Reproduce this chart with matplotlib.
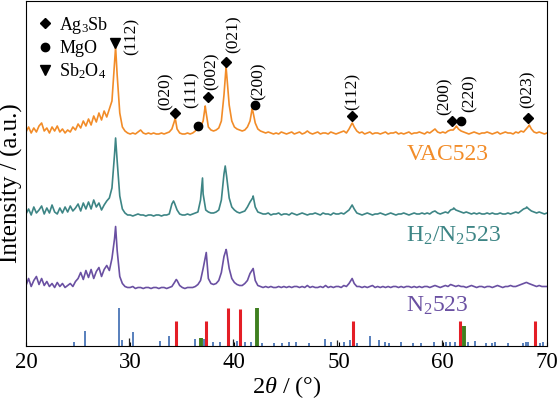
import numpy as np
import matplotlib
matplotlib.use("Agg")
import matplotlib.pyplot as plt
from matplotlib.lines import Line2D

plt.rcParams['font.family'] = ['Liberation Serif', 'DejaVu Serif']
plt.rcParams['mathtext.fontset'] = 'custom'
plt.rcParams['mathtext.rm'] = 'Liberation Serif'
plt.rcParams['mathtext.it'] = 'Liberation Serif:italic'

# scan grid, 0.25 deg step
two_theta = np.arange(20, 70.001, 0.25)

# intensities (arb. units, above each baseline)
vac523 = [3, 8, 2, 7, 3, 9, 12, 4,
          7, 2, 8, 4, 9, 3, 6, 2,
          5, 3, 8, 5, 11, 7, 14, 9,
          16, 10, 19, 13, 22, 15, 24, 18,
          26, 34, 72, 60, 22, 8, 4, 2,
          1, 2, 1, 3, 5, 2, 1, 2,
          1, 2, 1, 1, 2, 1, 2, 3,
          6, 14, 6, 2, 1, 1, 2, 1,
          2, 4, 7, 8, 14, 25, 8, 5,
          4, 5, 7, 14, 40, 62, 30, 14,
          8, 6, 5, 4, 5, 8, 14, 25,
          12, 6, 4, 3, 2, 3, 2, 1,
          2, 1, 3, 2, 1, 2, 3, 1,
          2, 3, 1, 2, 4, 2, 1, 2,
          3, 1, 2, 2, 1, 3, 2, 1,
          2, 3, 4, 2, 6, 11, 8, 4,
          2, 3, 1, 2, 3, 1, 2, 2,
          1, 2, 3, 1, 2, 2, 3, 1,
          2, 1, 2, 3, 1, 2, 2, 3,
          2, 1, 3, 2, 4, 6, 3, 2,
          3, 2, 4, 5, 5, 8, 6, 4,
          3, 2, 1, 2, 3, 2, 1, 2,
          2, 3, 2, 1, 2, 3, 1, 2,
          3, 2, 2, 1, 3, 2, 4, 3,
          6, 9, 6, 3, 2, 3, 2, 1,
          2]
vac523_apex_pos = [28.6, 34.32, 37.2, 39.2, 41.7, 51.32, 61.3, 68.3]
vac523_apex_int = [88, 17, 29, 68, 26, 12, 9, 10]

h2n2_523 = [2, 7, 1, 9, 3, 6, 10, 2,
            8, 3, 11, 4, 2, 8, 3, 9,
            4, 10, 5, 8, 12, 5, 13, 7,
            14, 7, 16, 9, 13, 6, 11, 15,
            18, 28, 62, 55, 20, 7, 3, 1,
            1, 0, 1, 2, 1, 1, 0, 1,
            1, 0, 1, 1, 0, 1, 1, 2,
            12, 13, 6, 2, 1, 1, 2, 1,
            2, 3, 4, 16, 22, 6, 4, 3,
            3, 4, 6, 16, 42, 40, 18, 9,
            6, 4, 3, 4, 5, 9, 14, 18,
            9, 4, 3, 2, 2, 3, 1, 2,
            2, 3, 1, 2, 2, 1, 3, 2,
            1, 2, 3, 2, 1, 2, 2, 3,
            2, 1, 3, 2, 2, 1, 3, 2,
            2, 3, 2, 4, 6, 10, 7, 3,
            2, 1, 2, 3, 2, 1, 2, 2,
            3, 2, 1, 2, 3, 2, 1, 2,
            2, 3, 2, 1, 2, 3, 2, 2,
            3, 2, 3, 2, 4, 5, 3, 2,
            3, 4, 3, 6, 7, 6, 5, 4,
            3, 4, 3, 2, 3, 2, 3, 2,
            2, 3, 2, 3, 2, 2, 3, 2,
            2, 3, 2, 3, 4, 3, 5, 7,
            8, 7, 5, 4, 3, 4, 3, 2,
            3]
h2n2_523_apex_pos = [28.6, 34.16, 36.94, 39.12, 41.8, 51.3, 61.05, 68.05]
h2n2_523_apex_int = [78, 15, 38, 50, 20, 11, 8, 9]

n2_523 = [3, 10, 2, 8, 12, 4, 10, 3,
          7, 2, 5, 1, 6, 2, 5, 1,
          3, 5, 2, 7, 10, 16, 9, 18,
          11, 19, 10, 17, 21, 12, 19, 23,
          18, 30, 50, 38, 12, 5, 2, 1,
          1, 2, 0, 1, 1, 0, 1, 1,
          0, 1, 1, 0, 1, 1, 0, 1,
          2, 6, 8, 3, 1, 0, 1, 1,
          1, 2, 4, 8, 20, 33, 10, 5,
          4, 5, 8, 16, 32, 37, 20, 10,
          6, 4, 3, 3, 5, 8, 15, 19,
          8, 3, 2, 1, 2, 1, 2, 1,
          1, 2, 1, 2, 1, 2, 1, 2,
          2, 1, 2, 1, 3, 1, 2, 1,
          1, 2, 1, 3, 1, 2, 1, 2,
          2, 1, 3, 2, 5, 9, 5, 2,
          2, 1, 2, 1, 2, 3, 1, 2,
          1, 2, 1, 2, 1, 2, 2, 1,
          2, 1, 2, 2, 1, 2, 1, 2,
          1, 2, 2, 1, 2, 3, 2, 1,
          2, 3, 2, 4, 3, 2, 3, 2,
          2, 1, 2, 3, 2, 1, 2, 2,
          1, 2, 2, 1, 2, 3, 2, 1,
          2, 2, 3, 2, 2, 3, 4, 5,
          6, 5, 4, 3, 2, 3, 2, 2,
          2]
n2_523_apex_pos = [28.6, 34.42, 37.3, 39.21, 41.8, 51.3, 68.05]
n2_523_apex_int = [62, 9, 36, 39, 20, 10, 6]

# reference patterns (stick positions / relative intensities)
ag3sb_pos = [34.38, 37.29, 39.37, 40.55, 51.42, 61.65, 68.84]
ag3sb_int = [25, 25, 38, 37, 25, 25, 25]
mgo_pos = [36.81, 42.15, 62.06]
mgo_int = [8, 38, 20]
other_pos = [29.85, 39.91, 49.82, 59.89]
other_int = [8, 7, 6, 6]
sb2o4_pos = [24.57, 25.69, 28.95, 29.2, 30.23, 32.82, 33.68, 36.24, 37.1, 37.9,
             38.64, 40.23, 41.03, 41.6, 42.63, 43.84, 44.55, 45.25, 45.89, 47.17,
             48.7, 49.28, 50.56, 51.13, 51.74, 53.02, 53.88, 54.46, 54.87, 55.99,
             57.1, 57.87, 59.15, 60.27, 60.69, 61.17, 62.38, 63.09, 64.14, 64.68,
             65.0, 66.28, 67.72, 68.03, 68.2, 69.32, 69.64]
sb2o4_int = [4.5, 15, 38, 6, 14, 5, 10, 7, 7, 4,
             4, 5, 4, 4, 3, 3, 3, 4, 4, 3,
             7, 4, 4, 6, 3, 10, 6, 4, 3, 4,
             3, 3, 4, 4, 4, 4, 4, 5, 3, 3,
             4, 3, 3, 4, 4, 3, 4]

# peak indexing on the VAC523 curve
ann_phase = ['Sb2O4', 'Ag3Sb', 'MgO', 'Ag3Sb', 'Ag3Sb', 'MgO', 'Ag3Sb', 'Ag3Sb', 'MgO', 'Ag3Sb']
ann_hkl = ['(112)', '(020)', '(111)', '(002)', '(021)', '(200)', '(112)', '(200)', '(220)', '(023)']
ann_pos = [28.5, 34.26, 36.49, 37.42, 39.21, 42.0, 51.26, 60.84, 61.74, 68.13]
ann_level = [92, 22, 9, 38, 73, 30, 19, 14, 14, 17]
ann_text_pos = [30.15, 33.37, 35.92, 37.83, 39.91, 42.31, 51.32, 60.21, 62.61, 68.13]
ann_text_level = [80, 25, 27, 45, 82, 35, 25, 20, 23, 27]

markers = {'Ag3Sb': ('D', 5.5), 'MgO': ('o', 6.0), 'Sb2O4': ('v', 7.0)}

c_vac = '#F28C28'
c_h2 = '#3D8585'
c_n2 = '#6A50A2'

off_vac = 211.5
off_h2 = 130.5
off_n2 = 58


def merged(vals, apex_pos, apex_int):
    x = np.concatenate([two_theta, apex_pos])
    y = np.concatenate([vals, apex_int])
    order = np.argsort(x, kind='stable')
    return x[order], y[order]


fig = plt.figure(figsize=(5.6, 3.99), dpi=100)
ax = fig.add_axes([0.0464, 0.1316, 0.9304, 0.8659])

for vals, apos, aint, off, col in [(vac523, vac523_apex_pos, vac523_apex_int, off_vac, c_vac),
                                   (h2n2_523, h2n2_523_apex_pos, h2n2_523_apex_int, off_h2, c_h2),
                                   (n2_523, n2_523_apex_pos, n2_523_apex_int, off_n2, c_n2)]:
    x, y = merged(vals, apos, aint)
    ax.plot(x, y + off, color=col, lw=1.2)

ax.vlines(sb2o4_pos, 0, sb2o4_int, color='#2A5CAA', lw=1.1)
ax.vlines(other_pos, 0, other_int, color='#222222', lw=0.9)
ax.vlines(ag3sb_pos, 0, ag3sb_int, color='#E41E26', lw=2.2)
ax.vlines(mgo_pos, 0, mgo_int, color='#3F7F1F', lw=2.8)

for ph, hkl, p, lv, tp, tl in zip(ann_phase, ann_hkl, ann_pos, ann_level, ann_text_pos, ann_text_level):
    m, ms = markers[ph]
    ax.plot(p, off_vac + lv, marker=m, ms=ms, color='k', ls='none')
    ax.text(tp, off_vac + tl, hkl, rotation=90, ha='center', va='bottom', fontsize=12.5)

ax.text(56.5, 191.5, 'VAC523', color=c_vac, fontsize=17, ha='left', va='center')
ax.text(56.5, 110.5, 'H$_2$/N$_2$523', color=c_h2, fontsize=17, ha='left', va='center')
ax.text(56.5, 40.5, 'N$_2$523', color=c_n2, fontsize=17, ha='left', va='center')

handles = [Line2D([], [], marker=markers[k][0], ms=markers[k][1], color='k', ls='none')
           for k in ['Ag3Sb', 'MgO', 'Sb2O4']]
ax.legend(handles, ['Ag$_3$Sb', 'MgO', 'Sb$_2$O$_4$'], loc='upper left', frameon=False,
          fontsize=13, handlelength=0.6, handletextpad=0.5, labelspacing=0.25,
          borderaxespad=0.55, borderpad=0.2)

ax.set_xlim(20, 70)
ax.set_ylim(0, 345.5)
ax.set_xticks([20, 30, 40, 50, 60, 70])
ax.set_yticks([])
ax.tick_params(axis='x', direction='in', length=3, labelsize=16.5, pad=4)
for s in ax.spines.values():
    s.set_linewidth(0.8)
ax.set_xlabel(r'2$\theta$ / (°)', fontsize=17.5, labelpad=1)
ax.set_ylabel('Intensity / (a.u.)', fontsize=18)
ax.yaxis.set_label_coords(-0.006, 0.472)

plt.savefig('out.png', dpi=100)
